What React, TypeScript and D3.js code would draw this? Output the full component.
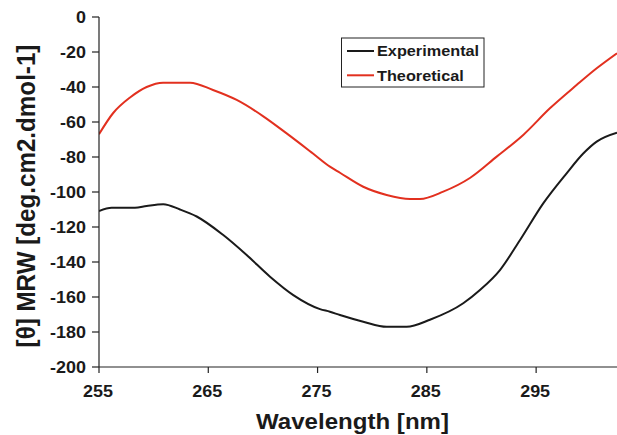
import React from "react";
import * as d3 from "d3";

const expWavelength = [255, 256.16, 258.29, 259.36, 260.88, 262.41, 263.94, 266.37, 268.51, 270.65, 272.78, 275.22, 276.13, 277.05, 279.18, 281.32, 283.15, 285.28, 288.33, 289.86, 291.69, 293.53, 295.65, 297.79, 299.31, 300.54, 302.4];
const expValues = [-110.9, -109, -109, -108, -107, -110, -114, -124.6, -136, -148.4, -158.9, -166.9, -168.4, -170.3, -174.1, -177, -177, -173, -163.6, -156, -144.6, -127.4, -106.5, -89.3, -78, -71.2, -66.1];

const theoWavelength = [255, 256.28, 257.84, 259.36, 260.86, 263.33, 265.43, 267.6, 270.0, 272.17, 274.58, 276.13, 277.05, 279.18, 281.32, 283.46, 284.37, 286.5, 288.94, 291.39, 293.82, 296.26, 298.7, 300.54, 302.4];
const theoValues = [-67, -55, -46, -40, -37.5, -37.5, -41.7, -47.4, -56.6, -66.5, -78, -85.5, -89, -97, -101.7, -104, -104, -99.8, -92, -79.8, -67.4, -52.2, -38.9, -29.3, -20.7];

const xTicks = [255, 265, 275, 285, 295];
const yTicks = [0, -20, -40, -60, -80, -100, -120, -140, -160, -180, -200];

const seriesNames = ["Experimental", "Theoretical"];
const seriesColors = ["#1a1a1a", "#e2301f"];

const SX = 1.07;

function SText(props: { x: number; y: number; anchor?: string; size: number; children: React.ReactNode; dy?: string }) {
  return (
    <g transform={`translate(${props.x},${props.y}) scale(${SX},1)`}>
      <text x={0} y={0} dy={props.dy} textAnchor={props.anchor || "start"} fontSize={props.size} fontWeight="bold" fill="#1a1a1a">
        {props.children}
      </text>
    </g>
  );
}

export default function App() {
  const W = 617, H = 435;
  const x = d3.scaleLinear().domain([255, 302.4]).range([99, 617]);
  const y = d3.scaleLinear().domain([0, -200]).range([17, 367]);
  const line = d3.line<[number, number]>().x(d => x(d[0])).y(d => y(d[1])).curve(d3.curveMonotoneX);
  const expData = expWavelength.map((w, i) => [w, expValues[i]] as [number, number]);
  const theoData = theoWavelength.map((w, i) => [w, theoValues[i]] as [number, number]);
  const font = "'Liberation Sans', Arial, Helvetica, sans-serif";
  const x0 = x(255);
  const yb = y(-200);
  return (
    <svg width={W} height={H} style={{ position: "absolute", left: 0, top: 0, background: "#fff" }} fontFamily={font}>
      <defs>
        <clipPath id="plot"><rect x={x0} y={0} width={W - x0} height={yb} /></clipPath>
      </defs>
      <g clipPath="url(#plot)">
        <path d={line(expData) || ""} fill="none" stroke={seriesColors[0]} strokeWidth={2} />
        <path d={line(theoData) || ""} fill="none" stroke={seriesColors[1]} strokeWidth={2} />
      </g>
      <line x1={x0} x2={x0} y1={y(0)} y2={yb} stroke="#222" strokeWidth={1.2} />
      <line x1={x0} x2={W} y1={yb} y2={yb} stroke="#222" strokeWidth={1.2} />
      {yTicks.map(t => (
        <g key={"y" + t}>
          <line x1={x0 - 7} x2={x0} y1={y(t)} y2={y(t)} stroke="#222" strokeWidth={1.2} />
          <SText x={86} y={y(t)} dy="0.36em" anchor="end" size={16.8}>{t}</SText>
        </g>
      ))}
      {xTicks.map(t => (
        <g key={"x" + t}>
          <line x1={x(t)} x2={x(t)} y1={yb} y2={yb + 6} stroke="#222" strokeWidth={1.2} />
          <SText x={x(t) - 1} y={397} anchor="middle" size={16.8}>{t}</SText>
        </g>
      ))}
      <SText x={352.5} y={429} anchor="middle" size={22.5}>Wavelength [nm]</SText>
      <text transform="translate(35,196) rotate(-90) scale(1,1.1)" textAnchor="middle" fontSize={24.2} fontWeight="bold" fill="#1a1a1a">[θ] MRW [deg.cm2.dmol-1]</text>
      <rect x={341.5} y={38} width={142.5} height={49} fill="#fff" stroke="#222" strokeWidth={1} />
      {seriesNames.map((n, i) => (
        <g key={n}>
          <line x1={347} x2={374} y1={51 + i * 24.3} y2={51 + i * 24.3} stroke={seriesColors[i]} strokeWidth={2} />
          <SText x={377} y={51 + i * 24.3} dy="0.36em" size={15.2}>{n}</SText>
        </g>
      ))}
    </svg>
  );
}
